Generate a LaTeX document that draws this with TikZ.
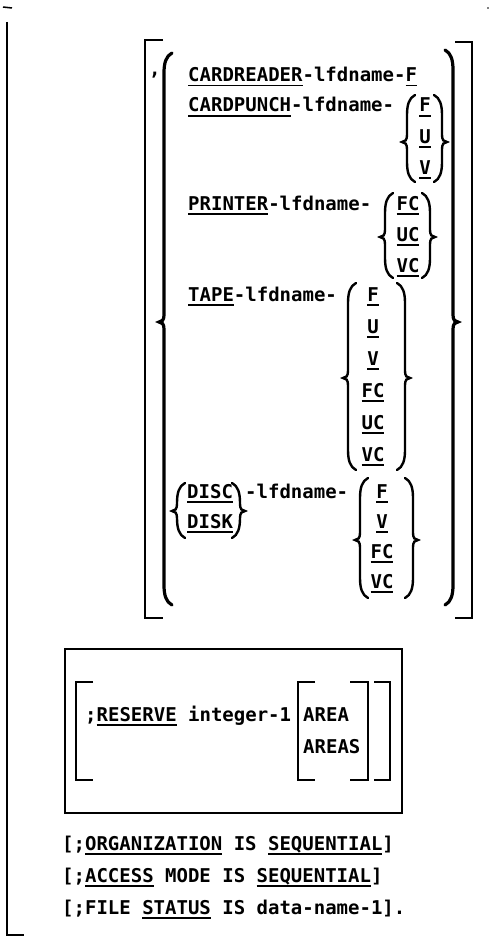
\documentclass[tikz,border=0pt]{standalone}
\usepackage{fontspec}
\setmonofont{DejaVu Sans Mono}

% underlined keyword
\newcommand{\ulin}[1]{\setbox0\hbox{#1}\rlap{\rule[-4.5pt]{\wd0}{1.8pt}}\box0\relax}
% curly braces: [style] x, top, tip, bottom
\newcommand{\bracL}[5][]{\draw[brc,#1] ({#2+8},#3) .. controls ({#2+2},{#3+3}) and ({#2},{#3+10}) .. ({#2},{#3+20}) -- ({#2},{#4-7}) .. controls ({#2},{#4-2}) and ({#2-2},#4) .. ({#2-5},#4) .. controls ({#2-2},#4) and ({#2},{#4+2}) .. ({#2},{#4+7}) -- ({#2},{#5-20}) .. controls ({#2},{#5-10}) and ({#2+2},{#5-3}) .. ({#2+8},#5);}
\newcommand{\bracR}[5][]{\draw[brc,#1] ({#2-8},#3) .. controls ({#2-2},{#3+3}) and ({#2},{#3+10}) .. ({#2},{#3+20}) -- ({#2},{#4-7}) .. controls ({#2},{#4-2}) and ({#2+2},#4) .. ({#2+5},#4) .. controls ({#2+2},#4) and ({#2},{#4+2}) .. ({#2},{#4+7}) -- ({#2},{#5-20}) .. controls ({#2},{#5-10}) and ({#2-2},{#5-3}) .. ({#2-8},#5);}

\begin{document}
\begin{tikzpicture}[x=1pt,y=-1pt,
  txt/.style={anchor=base west,inner sep=0pt,font=\ttfamily\bfseries\fontsize{19}{23}\selectfont},
  opt/.style={txt,anchor=base},
  brc/.style={line width=2.4pt,line cap=round},
  brk/.style={line width=1.8pt},
  box/.style={line width=1.5pt}]
\useasboundingbox (0,0) rectangle (492,939);

% frame
\draw[line width=1.5pt] (3,7) -- (12,8);
\fill (488,8) circle (0.8);
\draw[line width=2pt] (7,22) -- (7,935) -- (24,935);

% outer brackets and braces
\draw[brk] (163,40) -- (145,40) -- (145,618) -- (163,618);
\draw[brk] (455,42) -- (472,42) -- (472,618) -- (455,618);
\node[txt] (comma) at (149,76) {,};
\bracL[line width=3.2pt]{164}{53}{322}{605}
\bracR[line width=3.2pt]{453}{50}{322}{605}

% devices
\node[txt] (cr) at (188,82) {\ulin{CARDREADER}-lfdname-\ulin{F}};

\node[txt] (cp) at (188,112) {\ulin{CARDPUNCH}-lfdname-};
\bracL{407}{95}{142}{182}
\node[opt] (cpF) at (425,112) {\ulin{F}};
\node[opt] (cpU) at (425,143) {\ulin{U}};
\node[opt] (cpV) at (425,174) {\ulin{V}};
\bracR{442}{95}{142}{182}

\node[txt] (pr) at (188,210) {\ulin{PRINTER}-lfdname-};
\bracL{385}{193}{237}{278}
\node[opt] (prFC) at (408,210) {\ulin{FC}};
\node[opt] (prUC) at (408,241) {\ulin{UC}};
\node[opt] (prVC) at (408,272) {\ulin{VC}};
\bracR{430}{193}{237}{278}

\node[txt] (tp) at (188,301) {\ulin{TAPE}-lfdname-};
\bracL{348}{283}{378}{470}
\node[opt] (tpF) at (373,301) {\ulin{F}};
\node[opt] (tpU) at (373,333) {\ulin{U}};
\node[opt] (tpV) at (373,365) {\ulin{V}};
\node[opt] (tpFC) at (373,397) {\ulin{FC}};
\node[opt] (tpUC) at (373,429) {\ulin{UC}};
\node[opt] (tpVC) at (373,461) {\ulin{VC}};
\bracR{405}{283}{378}{470}

\bracL{177}{483}{511}{538}
\node[txt] (dsc) at (187,498) {\ulin{DISC}};
\node[txt] (dsk) at (187,528) {\ulin{DISK}};
\bracR{240}{483}{511}{538}
\node[txt] (dln) at (245,498) {-lfdname-};
\bracL{360}{478}{540}{598}
\node[opt] (dF) at (382,498) {\ulin{F}};
\node[opt] (dV) at (382,528) {\ulin{V}};
\node[opt] (dFC) at (382,558) {\ulin{FC}};
\node[opt] (dVC) at (382,588) {\ulin{VC}};
\bracR{413}{478}{540}{598}

% reserve clause
\draw[box] (65,649) rectangle (402,813);
\draw[brk] (93,682) -- (76,682) -- (76,780) -- (93,780);
\node[txt] (res) at (85,721) {;\ulin{RESERVE} integer-1};
\draw[brk] (315,682) -- (298,682) -- (298,780) -- (315,780);
\node[txt] (area) at (303,721) {AREA};
\node[txt] (areas) at (303,753) {AREAS};
\draw[brk] (350,682) -- (368,682) -- (368,780) -- (350,780);
\draw[brk] (374,682) -- (390,682) -- (390,780) -- (374,780);

% clauses
\node[txt] (org) at (62,850) {[;\ulin{ORGANIZATION} IS \ulin{SEQUENTIAL}]};
\node[txt] (acc) at (62,882) {[;\ulin{ACCESS} MODE IS \ulin{SEQUENTIAL}]};
\node[txt] (fst) at (62,914) {[;FILE \ulin{STATUS} IS data-name-1].};
\end{tikzpicture}
\end{document}
